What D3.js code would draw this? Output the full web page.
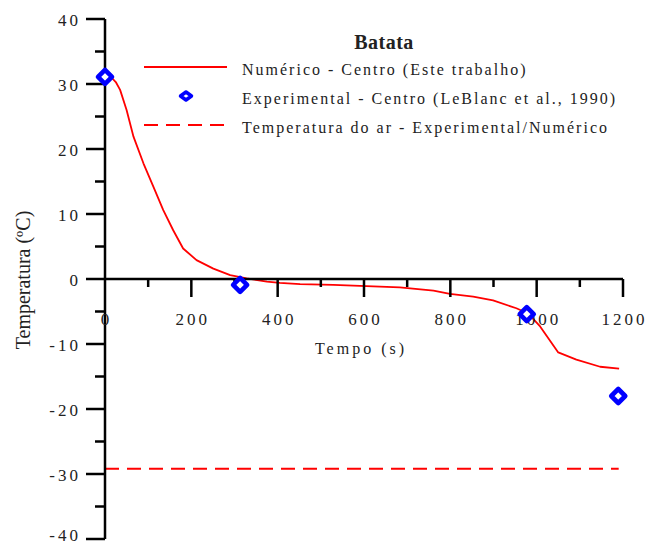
<!DOCTYPE html>
<html>
<head>
<meta charset="utf-8">
<script src="https://cdn.jsdelivr.net/npm/d3@7"></script>
<style>
  html, body { margin: 0; padding: 0; background: #fff; }
  svg { display: block; }
  text { font-family: "Liberation Serif", "Times New Roman", serif; fill: #222; }
</style>
</head>
<body>
<svg id="chart" width="647" height="546"></svg>
<script>
// ---- data ----
const numTime = [0, 15, 25, 35, 50, 66, 89, 112, 135, 158, 181, 212, 251, 290, 328, 375, 405, 452, 529, 606, 683, 761, 799, 853, 899, 953, 980, 1008, 1050, 1092, 1147, 1191];
const numTemp = [31.2, 31.0, 30.3, 29.1, 26.0, 21.9, 17.8, 14.2, 10.6, 7.5, 4.7, 2.9, 1.6, 0.6, 0.1, -0.4, -0.6, -0.8, -0.9, -1.1, -1.3, -1.8, -2.3, -2.7, -3.3, -4.5, -5.3, -7.3, -11.3, -12.4, -13.5, -13.8];
const expTime = [0, 313, 977, 1189];
const expTemp = [31.1, -0.9, -5.4, -18.0];
const airTime = [0, 1190];
const airTemp = [-29.2, -29.2];
const xMajorTicks = [0, 200, 400, 600, 800, 1000, 1200];
const xMinorTicks = [100, 300, 500, 700, 900, 1100];
const yMajorTicks = [40, 30, 20, 10, 0, -10, -20, -30, -40];
const yMinorTicks = [35, 25, 15, 5, -5, -15, -25, -35];
const legendTitle = "Batata";
const legendLabels = [
  "Numérico - Centro (Este trabalho)",
  "Experimental - Centro (LeBlanc et al., 1990)",
  "Temperatura do ar - Experimental/Numérico"
];
const xTitle = "Tempo (s)";
const yTitle = "Temperatura (ºC)";

// ---- layout ----
const svg = d3.select("#chart");
const x = d3.scaleLinear().domain([0, 1200]).range([105, 623]);
const y = d3.scaleLinear().domain([-40, 40]).range([539, 19]);
const red = "#ff0000", blue = "#0000ff";

// air temperature dashed line
svg.append("path")
  .datum(airTime.map((t, i) => [t, airTemp[i]]))
  .attr("fill", "none").attr("stroke", red).attr("stroke-width", 2)
  .attr("stroke-dasharray", "14,8")
  .attr("d", d3.line().x(d => x(d[0])).y(d => y(d[1])));

// numeric curve
svg.append("path")
  .datum(numTime.map((t, i) => [t, numTemp[i]]))
  .attr("fill", "none").attr("stroke", red).attr("stroke-width", 1.8)
  .attr("stroke-linejoin", "round")
  .attr("d", d3.line().x(d => x(d[0])).y(d => y(d[1])));

// axes
const axisG = svg.append("g").attr("stroke", "#000").attr("stroke-width", 2.5);
axisG.append("line").attr("x1", x(0)).attr("x2", x(0)).attr("y1", y(40)).attr("y2", y(-40));
axisG.append("line").attr("x1", x(0)).attr("x2", x(1200)).attr("y1", y(0)).attr("y2", y(0));
axisG.selectAll(".ymaj").data(yMajorTicks).enter().append("line")
  .attr("x1", x(0) - 19).attr("x2", x(0)).attr("y1", d => y(d)).attr("y2", d => y(d));
axisG.selectAll(".ymin").data(yMinorTicks).enter().append("line")
  .attr("x1", x(0) - 10).attr("x2", x(0)).attr("y1", d => y(d)).attr("y2", d => y(d));
axisG.selectAll(".xmaj").data(xMajorTicks.filter(d => d !== 0)).enter().append("line")
  .attr("x1", d => x(d)).attr("x2", d => x(d)).attr("y1", y(0)).attr("y2", y(0) + 18);
axisG.selectAll(".xmin").data(xMinorTicks).enter().append("line")
  .attr("x1", d => x(d)).attr("x2", d => x(d)).attr("y1", y(0)).attr("y2", y(0) + 8);

// tick labels
const ls = 3;
svg.selectAll(".ylab").data(yMajorTicks).enter().append("text")
  .attr("x", x(0) - 27 + ls).attr("y", d => Math.min(y(d) + 7, 541))
  .attr("text-anchor", "end").style("font-size", "17px").style("letter-spacing", ls + "px")
  .text(d => d);
svg.selectAll(".xlab").data(xMajorTicks).enter().append("text")
  .attr("x", d => x(d) + ls / 2).attr("y", y(0) + 46)
  .attr("text-anchor", "middle").style("font-size", "17px").style("letter-spacing", ls + "px")
  .text(d => d);

// axis titles
svg.append("text").attr("x", 361).attr("y", 354).attr("text-anchor", "middle")
  .style("font-size", "16px").style("letter-spacing", "3px").text(xTitle);
svg.append("text").attr("transform", "translate(30,280) rotate(-90)").attr("text-anchor", "middle")
  .style("font-size", "20px").text(yTitle);

// experimental markers
const diamond = (cx, cy, hw, hh) => `M${cx},${cy - hh}L${cx + hw},${cy}L${cx},${cy + hh}L${cx - hw},${cy}Z`;
svg.selectAll(".exp").data(expTime.map((t, i) => [t, expTemp[i]])).enter().append("path")
  .attr("d", d => diamond(x(d[0]), y(d[1]), 7, 7))
  .attr("fill", "#fff").attr("stroke", blue).attr("stroke-width", 4.6).attr("stroke-linejoin", "round");

// legend
svg.append("text").attr("x", 384).attr("y", 49).attr("text-anchor", "middle")
  .style("font-size", "20px").style("font-weight", "bold").style("letter-spacing", "0.5px").text(legendTitle);
const legY = [67, 96, 125];
svg.append("line").attr("x1", 144).attr("x2", 227).attr("y1", legY[0]).attr("y2", legY[0])
  .attr("stroke", red).attr("stroke-width", 2);
svg.append("path").attr("d", diamond(186, legY[1], 5.5, 4))
  .attr("fill", "#fff").attr("stroke", blue).attr("stroke-width", 3.5).attr("stroke-linejoin", "round");
svg.append("line").attr("x1", 144).attr("x2", 227).attr("y1", legY[2]).attr("y2", legY[2])
  .attr("stroke", red).attr("stroke-width", 2).attr("stroke-dasharray", "14,8");
svg.selectAll(".leg").data(legendLabels).enter().append("text")
  .attr("x", 242).attr("y", (d, i) => legY[i] + 8)
  .style("font-size", "16px").style("letter-spacing", "2px").text(d => d);
</script>
</body>
</html>
